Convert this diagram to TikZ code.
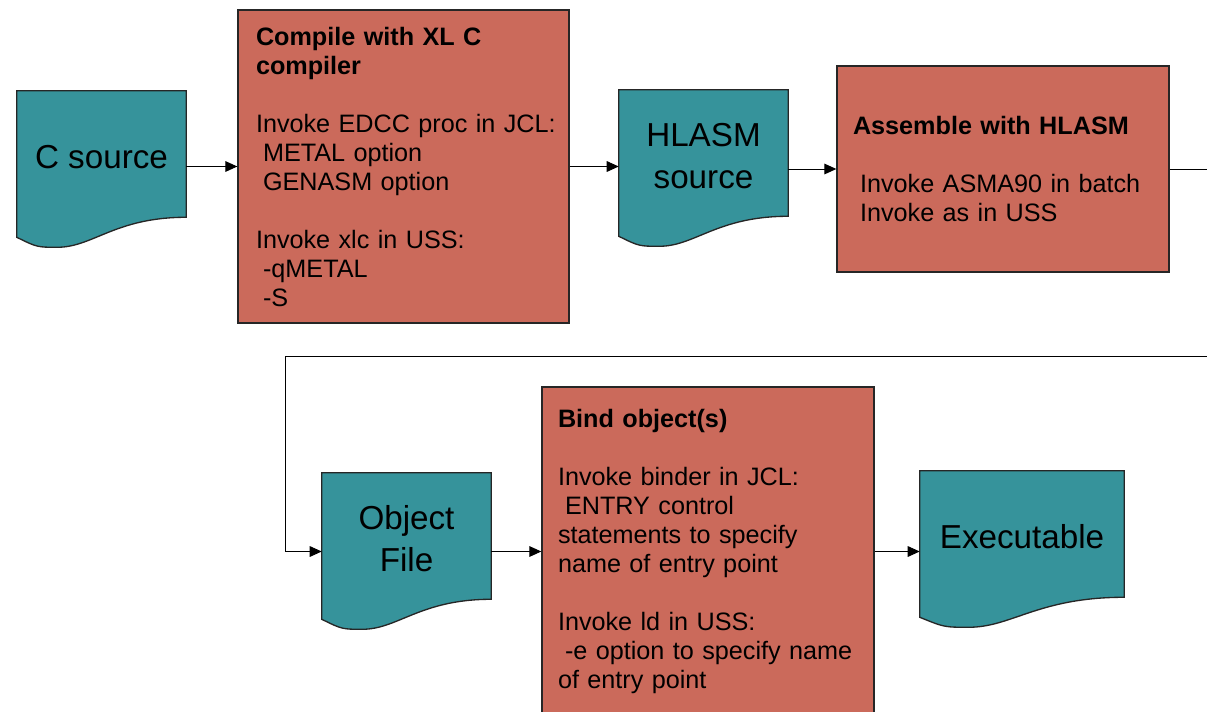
\documentclass[tikz,border=0pt]{standalone}
\usepackage{fontspec}
\setmainfont{Liberation Sans}
\usetikzlibrary{calc,arrows.meta,backgrounds}

\definecolor{docteal}{RGB}{54,147,155}
\definecolor{stepred}{RGB}{203,106,91}

% wavy "document" outline round a named node
\newcommand\docshape[1]{%
  \filldraw[docfill] (#1.north west) -- (#1.north east)
    -- ($(#1.south east)+(0,-6)$)
    .. controls ($(#1.south west)!0.58!(#1.south east)+(0,-6)$)
       and ($(#1.south west)!0.45!(#1.south east)+(0,24)$)
    .. ($(#1.south west)!0.24!(#1.south east)+(0,24)$)
    .. controls ($(#1.south west)!0.12!(#1.south east)+(0,24)$)
    .. ($(#1.south west)+(0,14)$) -- cycle;}
\newcommand\ind{\hspace*{0.28em}}

\begin{document}
\begin{tikzpicture}[x=0.75pt,y=-0.75pt,
    docnode/.style={minimum width=126.75pt,minimum height=99pt,inner sep=0pt,
      align=center,font=\fontsize{24.9}{31.5}\selectfont},
    docfill/.style={fill=docteal,draw=black!85,line width=1pt},
    stepbox/.style={fill=stepred,draw=black!85,line width=1pt,align=left,
      inner xsep=13.5pt,font=\fontsize{18.9}{21.75}\selectfont},
    conn/.style={-{Triangle[length=9pt,width=8pt]},line width=0.75pt}]
    \useasboundingbox (0,0) rectangle (1207,711);
    \clip (0,0) rectangle (1207,711);

    % documents
    \node[docnode] (csrc) at (101.5,157) {C source};
    \node[docnode] (hlasm) at (703.5,156) {HLASM\\source};
    \node[docnode] (obj) at (406.5,539) {Object\\File};
    \node[docnode,minimum width=153pt] (exe) at (1022,537) {Executable};
    \begin{scope}[on background layer]
      \docshape{csrc}
      \docshape{hlasm}
      \docshape{obj}
      \docshape{exe}
    \end{scope}

    % steps
    \node[stepbox,minimum width=248.25pt,minimum height=234.75pt,text width=221.25pt]
      (cmp) at (403.5,166.5) {\textbf{Compile with XL C}\\\textbf{compiler}\\~\\
      \mbox{Invoke EDCC proc in JCL:}\\\ind METAL option\\\ind GENASM option\\~\\
      Invoke xlc in USS:\\\ind -qMETAL\\\ind -S};
    \node[stepbox,minimum width=249pt,minimum height=154.5pt,inner xsep=12pt,text width=225pt]
      (asm) at (1003,169) {\textbf{Assemble with HLASM}\\~\\
      \ind Invoke ASMA90 in batch\\\ind Invoke as in USS};
    \node[stepbox,minimum width=249pt,minimum height=246.75pt,inner xsep=12pt,text width=225pt]
      (bind) at (708,551.5) {\textbf{Bind object(s)}\\~\\
      Invoke binder in JCL:\\\ind ENTRY control\\statements to specify\\name of entry point\\~\\
      Invoke ld in USS:\\\ind -e option to specify name\\of entry point};

    % connectors
    \coordinate (turnR) at (1230,356);
    \coordinate (turnL) at (285,356);
    \draw[conn] (cmp.west -| csrc.east) -- (cmp.west);
    \draw[conn] (cmp.east) -- (cmp.east -| hlasm.west);
    \draw[conn] (asm.west -| hlasm.east) -- (asm.west);
    \draw[conn] (asm.east) -- (asm.east -| turnR) -- (turnR) -- (turnL)
      -- (turnL |- bind.west) -- (bind.west -| obj.west);
    \draw[conn] (bind.west -| obj.east) -- (bind.west);
    \draw[conn] (bind.east) -- (bind.east -| exe.west);
\end{tikzpicture}
\end{document}
